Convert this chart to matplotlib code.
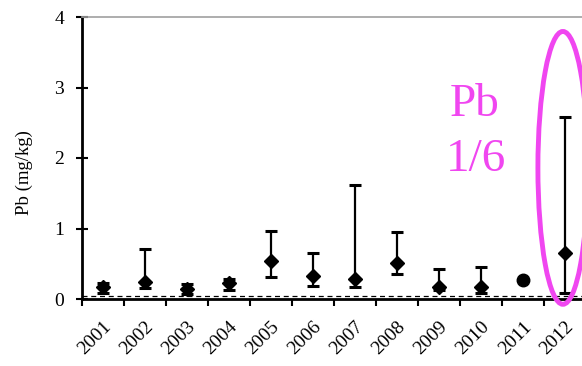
import matplotlib
matplotlib.use("Agg")
import matplotlib.pyplot as plt
import matplotlib.transforms as mtransforms
from matplotlib.patches import Ellipse
import numpy as np

years = ["2001", "2002", "2003", "2004", "2005", "2006", "2007", "2008", "2009", "2010", "2011", "2012"]
pb_mid = [0.17, 0.24, 0.14, 0.22, 0.54, 0.33, 0.29, 0.51, 0.17, 0.17, 0.27, 0.65]
pb_low = [0.09, 0.15, 0.07, 0.13, 0.31, 0.19, 0.17, 0.36, 0.13, 0.08, None, 0.09]
pb_high = [0.22, 0.71, 0.21, 0.29, 0.97, 0.65, 1.62, 0.95, 0.43, 0.45, None, 2.58]
detection_limit = 0.04

plt.rcParams['font.family'] = ['Liberation Serif', 'DejaVu Serif']

fig = plt.figure(figsize=(5.82, 3.66), dpi=100)
ax = fig.add_axes([82/582, 67/366, 504/582, 282/366])

x = np.arange(len(years)) + 0.5
for i, (m, lo, hi) in enumerate(zip(pb_mid, pb_low, pb_high)):
    if lo is None:
        ax.plot(x[i], m, 'o', color='black', markersize=9, zorder=3)
    else:
        ax.errorbar(x[i], m, yerr=[[m - lo], [hi - m]], fmt='D', color='black',
                    markersize=7, ecolor='black', elinewidth=1.6, capsize=4.5,
                    capthick=2.2, zorder=3)

ax.axhline(detection_limit, color='black', linestyle=(0, (4, 3)), linewidth=0.9, zorder=1)

ax.set_xlim(0, 12)
ax.set_ylim(0, 4)
ax.set_yticks([0, 1, 2, 3, 4])
ax.set_xticks(np.arange(0, 13))
ax.set_xticklabels([])
ax.set_xticks(x, minor=True)
ax.set_xticklabels(years, minor=True, rotation=45, ha='right', va='top',
                   rotation_mode='anchor', fontsize=14)
shift = mtransforms.ScaledTranslation(-4/100, 0, fig.dpi_scale_trans)
for lab in ax.get_xticklabels(minor=True):
    lab.set_transform(lab.get_transform() + shift)
ax.tick_params(axis='x', which='minor', length=0, pad=14)
ax.tick_params(axis='x', which='major', direction='out', length=5, width=1.5)
ax.tick_params(axis='y', direction='inout', length=8, width=1.5, labelsize=14, pad=9)

ax.spines['left'].set_linewidth(2)
ax.spines['bottom'].set_linewidth(2)
ax.spines['right'].set_visible(False)
ax.spines['top'].set_color('#a0a0a0')
ax.spines['top'].set_linewidth(1.2)

ax.set_ylabel('Pb (mg/kg)', fontsize=13.5)
ax.yaxis.set_label_coords(-0.097, 0.447)

pink = '#f046f0'
ell = Ellipse((11.45, 1.86), 1.19, 3.87, fill=False, edgecolor=pink, linewidth=3.5,
              clip_on=False, zorder=4)
ax.add_patch(ell)
ax.text(9.36, 2.75, 'Pb', color=pink, fontsize=34, ha='center', va='center')
ax.text(9.38, 1.97, '1/6', color=pink, fontsize=34, ha='center', va='center')

fig.savefig('out.png', dpi=100)
